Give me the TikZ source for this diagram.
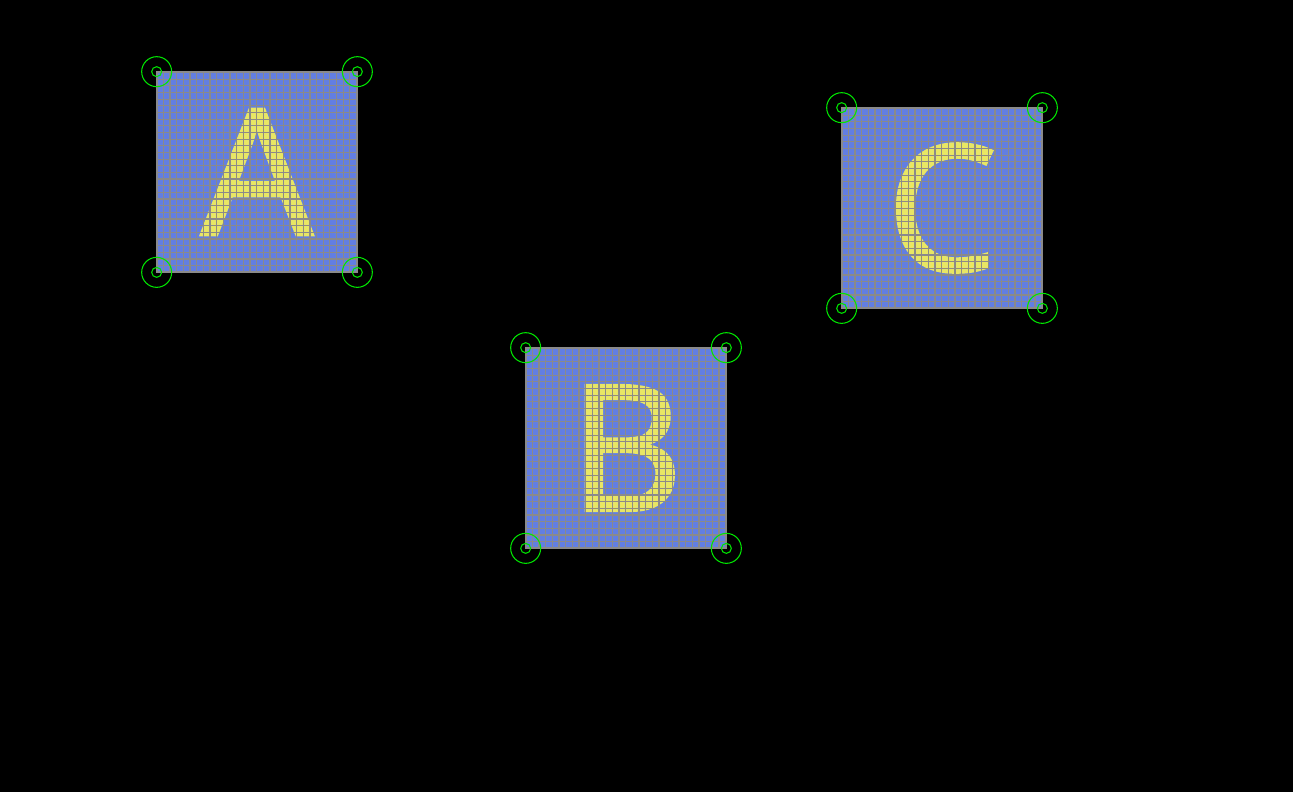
\documentclass[tikz,border=0pt]{standalone}
\usepackage{fontspec}
\setmainfont{Noto Sans}
\newfontfamily\tilefont{Noto Sans}[FakeBold=1.5]
\definecolor{tileblue}{RGB}{98,126,226}
\definecolor{letteryellow}{RGB}{232,230,100}
\definecolor{cornergreen}{RGB}{0,230,0}
\definecolor{gridgray}{RGB}{138,138,138}
\begin{document}
\begin{tikzpicture}[x=0.02cm,y=-0.02cm]
  \tikzstyle{tile}=[rectangle,fill=tileblue,text=letteryellow,minimum size=4cm,inner sep=0pt,font=\tilefont\fontsize{100}{100}\selectfont]
  \tikzstyle{tilegrid}=[draw=gridgray,line width=0.6pt,step=0.133333cm]
  \tikzstyle{tileborder}=[draw=gridgray,line width=1pt]
  \tikzstyle{corner}=[draw=cornergreen,line width=0.6pt]
 \fill[black] (0,0) rectangle (1293,792);

 \node[tile] (A) at (257,172) {A};
 \node[tile] (B) at (626,448) {B};
 \node[tile] (C) at (942,208) {C};

 \draw[tilegrid,shift={(A.south west)}] (0,0) grid (4cm,4cm);
 \draw[tilegrid,shift={(B.south west)}] (0,0) grid (4cm,4cm);
 \draw[tilegrid,shift={(C.south west)}] (0,0) grid (4cm,4cm);
 \draw[tileborder] (A.south west) rectangle (A.north east);
 \draw[tileborder] (B.south west) rectangle (B.north east);
 \draw[tileborder] (C.south west) rectangle (C.north east);

 \draw[corner] (A.north west) circle (0.1cm) circle (0.3cm);
 \draw[corner] (A.north east) circle (0.1cm) circle (0.3cm);
 \draw[corner] (A.south west) circle (0.1cm) circle (0.3cm);
 \draw[corner] (A.south east) circle (0.1cm) circle (0.3cm);
 \draw[corner] (B.north west) circle (0.1cm) circle (0.3cm);
 \draw[corner] (B.north east) circle (0.1cm) circle (0.3cm);
 \draw[corner] (B.south west) circle (0.1cm) circle (0.3cm);
 \draw[corner] (B.south east) circle (0.1cm) circle (0.3cm);
 \draw[corner] (C.north west) circle (0.1cm) circle (0.3cm);
 \draw[corner] (C.north east) circle (0.1cm) circle (0.3cm);
 \draw[corner] (C.south west) circle (0.1cm) circle (0.3cm);
 \draw[corner] (C.south east) circle (0.1cm) circle (0.3cm);

\end{tikzpicture}
\end{document}
